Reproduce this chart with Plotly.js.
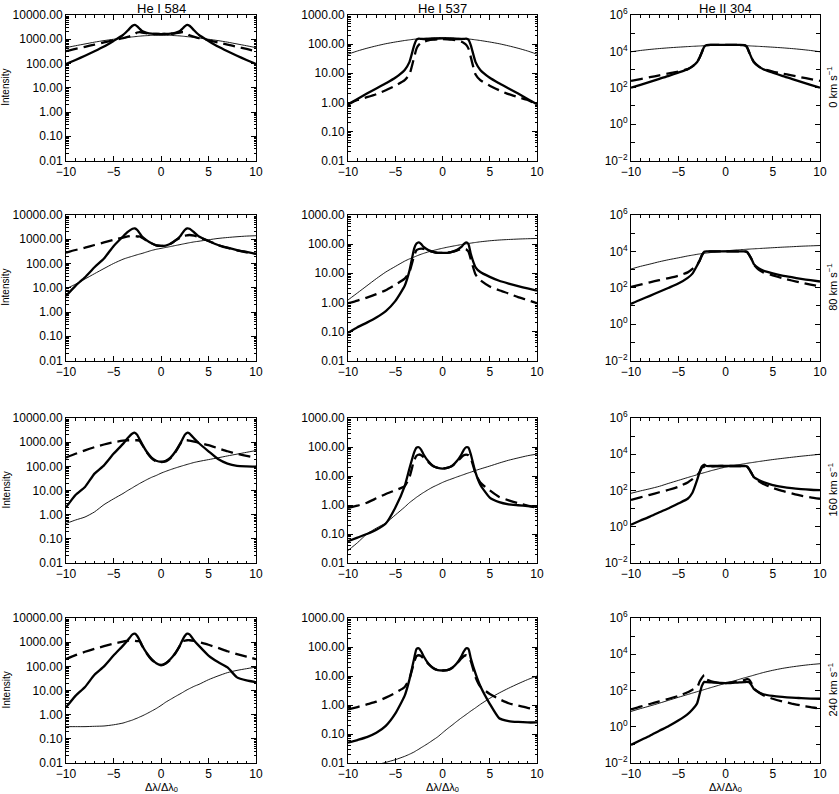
<!DOCTYPE html>
<html>
<head>
<meta charset="utf-8">
<script src="https://cdn.plot.ly/plotly-3.0.1.min.js"></script>
<style>html,body{margin:0;padding:0;background:#fff}#plot{width:839px;height:794px}</style>
</head>
<body>
<div id="plot"></div>
<script>
// common wavelength grid (Δλ/Δλ0)
const X = [-10,-9,-8,-7,-6,-5,-4,-3.5,-3,-2.75,-2.5,-2.25,-2,-1.5,-1,-0.5,0,0.5,1,1.5,2,2.25,2.5,2.75,3,3.5,4,5,6,7,8,9,10];

const lineNames = ['He I 584','He I 537','He II 304'];
const velocityLabels = ['0 km s<sup>−1</sup>','80 km s<sup>−1</sup>','160 km s<sup>−1</sup>','240 km s<sup>−1</sup>'];
const xLabel = 'Δλ/Δλₒ';

// He I 584
const s584_0 = [95,140,210,320,500,850,1500,2300,3600,3900,3400,2700,2200,1850,1700,1650,1640,1650,1700,1850,2200,2700,3400,3900,3600,2300,1500,850,500,320,210,140,95];
const d584_0 = [320,400,490,600,740,900,1100,1250,1450,1650,1900,1950,1900,1750,1680,1650,1640,1650,1680,1750,1900,1950,1900,1650,1450,1250,1100,900,740,600,490,400,320];
const t584_0 = [450,540,640,760,880,1000,1130,1190,1250,1280,1310,1340,1370,1410,1440,1460,1470,1460,1440,1410,1370,1340,1310,1280,1250,1190,1130,1000,880,760,640,540,450];

const s584_80 = [4.6,12,27,70,160,520,1300,2000,2700,2800,2400,1800,1300,900,680,560,530,550,650,880,1300,1800,2400,2800,2700,1900,1300,850,580,450,360,300,250];
const d584_80 = [280,360,450,580,740,950,1180,1300,1400,1350,1300,1300,1150,880,680,560,530,550,650,880,1150,1300,1400,1450,1500,1400,1200,850,580,440,350,290,250];
const t584_80 = [9,14,23,38,62,100,150,175,200,215,230,245,260,300,345,385,420,460,500,550,600,630,660,690,720,780,830,950,1080,1180,1270,1350,1400];

const s584_160 = [2,6.5,14,50,110,330,850,1500,2300,2450,2000,1300,850,400,230,170,155,170,230,400,850,1300,2000,2450,2300,1400,900,420,200,130,105,100,98];
const d584_160 = [230,330,460,620,800,1000,1150,1200,1200,1200,1200,1150,800,380,220,160,150,160,220,380,800,1150,1200,1200,1150,1050,950,750,560,420,330,270,230];
const t584_160 = [0.43,0.6,0.8,1.3,2.6,4.5,7.5,10,13,15,17,19.5,22,28,35,42,52,62,73,85,98,105,112,120,128,145,160,190,225,270,320,380,450];

const s584_240 = [2,6,14,45,100,280,720,1200,2100,2250,1800,1200,750,350,200,135,115,135,200,350,750,1200,1800,2250,2100,1150,700,280,150,90,35,26,22];
const d584_240 = [200,290,400,530,680,860,1050,1150,1200,1150,1100,1100,720,340,190,130,110,130,190,340,720,1100,1150,1200,1200,1120,1000,780,580,420,320,250,200];
const t584_240 = [0.32,0.32,0.32,0.33,0.34,0.38,0.45,0.52,0.6,0.66,0.72,0.8,0.88,1.1,1.4,1.8,2.4,3.3,4.3,5.6,7.2,8.2,9.4,10.7,12,15,18,28,40,55,68,80,93];

// He I 537
const s537_0 = [0.85,1.3,2.0,3.0,4.5,7,13,24,90,140,155,150,148,148,150,155,158,155,150,148,148,150,155,140,90,24,13,7,4.5,3.0,2.0,1.3,0.85];
const d537_0 = [0.85,1.2,1.5,1.9,2.6,3.7,5.8,9,35,70,95,110,120,135,142,146,148,146,142,135,120,110,95,70,35,9,5.8,3.7,2.6,1.9,1.5,1.2,0.85];
const t537_0 = [45,58,72,87,103,118,133,140,147,150,153,156,159,163,166,168,169,168,166,163,159,156,153,150,147,140,133,118,103,87,72,58,45];

const s537_80 = [0.09,0.14,0.2,0.3,0.5,1.1,3.7,12,70,105,115,100,80,62,54,50,50,50,54,62,80,100,115,100,45,16,11,7.5,5.5,4.4,3.6,3,2.5];
const d537_80 = [0.93,1.15,1.45,1.9,2.6,4,6.5,11,40,62,68,70,68,60,54,50,50,50,54,60,68,68,66,55,30,9,5.8,3.5,2.6,2.0,1.5,1.2,0.93];
const t537_80 = [1.2,2.1,3.7,6.5,11,17,26,31,36,39,42,45,48,54,60,66,72,78,84,90,96,99,102,105,108,114,120,130,138,144,149,153,156];

const s537_160 = [0.056,0.075,0.1,0.14,0.23,0.8,4.5,18,65,95,98,80,55,32,22,19,18,19,22,32,55,80,98,95,55,13,5,1.8,1.25,1.05,0.98,0.92,0.87];
const d537_160 = [0.8,0.95,1.2,1.7,2.4,3.2,4.5,9,35,50,55,52,44,30,22,19,18,19,22,30,44,52,55,52,40,12,6,3.2,1.9,1.45,1.15,0.95,0.8];
const t537_160 = [0.027,0.05,0.1,0.16,0.24,0.45,0.85,1.2,1.6,1.85,2.1,2.4,2.7,3.4,4.2,5.0,6,7,8,9.2,10.5,11.2,12,12.8,13.6,15.5,17.5,22,28,35,42,50,57];

const s537_240 = [0.05,0.062,0.078,0.11,0.19,0.5,2.1,7.5,40,85,90,70,48,27,19,16,15.5,16,19,27,48,70,90,85,40,12,4.5,1.1,0.35,0.28,0.26,0.25,0.25];
const d537_240 = [0.7,0.85,1.05,1.3,1.8,2.6,4.2,8,30,48,52,48,40,26,19,16,15.5,16,19,26,40,48,52,48,32,9,4.3,2.4,1.6,1.15,0.95,0.8,0.7];
const t537_240 = [0.004,0.005,0.0065,0.0085,0.0105,0.013,0.017,0.02,0.024,0.027,0.03,0.034,0.038,0.048,0.062,0.08,0.11,0.15,0.2,0.27,0.36,0.41,0.47,0.54,0.62,0.8,1.05,1.7,2.6,3.8,5.4,7.5,10];

// He II 304
const s304_0 = [100,145,210,310,450,680,1050,1500,2600,4500,9000,18000,22000,22500,22500,22500,22500,22500,22500,22500,22000,18000,9000,4500,2600,1500,1050,680,450,310,210,145,100];
const d304_0 = [240,300,380,480,610,780,1050,1500,2600,4500,9000,18000,22000,22500,22500,22500,22500,22500,22500,22500,22000,18000,9000,4500,2600,1500,1050,780,610,480,380,300,240];
const t304_0 = [9500,11200,12800,14300,15700,17000,18300,18900,19500,19800,20100,20400,20700,21200,21700,22000,22100,22000,21700,21200,20700,20400,20100,19800,19500,18900,18300,17000,15700,14300,12800,11200,9500];

const s304_80 = [13,22,36,60,100,170,350,600,1700,3000,6000,9500,10000,10000,10000,10000,10000,10000,10000,10000,10000,9500,6500,3800,2000,1200,870,620,470,380,310,260,220];
const d304_80 = [110,150,200,260,340,460,700,1100,1900,3000,6000,9500,10000,10000,10000,10000,10000,10000,10000,10000,10000,9500,6500,3800,1900,1000,700,480,340,250,190,150,120];
const t304_80 = [1070,1500,2000,2700,3500,4400,5600,6200,6900,7200,7500,7800,8100,8700,9300,10000,10600,11200,11800,12300,12800,13100,13300,13600,13800,14300,14800,15900,17000,18000,19200,20100,21000];

const s304_160 = [1.3,2.2,3.6,6.3,10.5,19,35,75,380,1000,2100,2700,2250,2250,2250,2250,2250,2250,2250,2250,2250,2200,1500,900,550,380,290,200,160,135,120,110,105];
const d304_160 = [30,42,58,80,110,160,280,420,700,1000,1800,2100,2100,2150,2200,2250,2250,2250,2250,2250,2250,2200,1500,900,550,330,230,140,95,70,52,42,35];
const t304_160 = [70,95,125,170,250,360,520,620,740,810,890,960,1050,1250,1450,1700,1950,2200,2450,2700,3000,3150,3300,3450,3600,3950,4300,5100,5900,6800,7800,8800,10000];

const s304_240 = [0.1,0.18,0.32,0.6,1.1,2.2,5,9,20,60,180,300,290,280,270,260,255,260,270,280,290,300,290,200,120,80,62,50,44,40,38,36,35];
const d304_240 = [9,13,18,25,35,50,80,110,150,300,500,700,400,320,280,260,255,270,300,340,380,420,400,250,130,80,55,35,25,19,15,12,10];
const t304_240 = [7,10,14,20,29,42,60,72,86,94,103,112,123,147,175,210,250,300,350,420,500,540,590,640,700,830,980,1300,1650,2000,2350,2700,3000];

// tick labels
const xTickVals = [-10,-5,0,5,10];
const xTickText = ['−10','−5','0','5','10'];
const yTickVals584 = [0.01,0.1,1,10,100,1000,10000];
const yTickText584 = ['0.01','0.10','1.00','10.00','100.00','1000.00','10000.00'];
const yTickVals537 = [0.01,0.1,1,10,100,1000];
const yTickText537 = ['0.01','0.10','1.00','10.00','100.00','1000.00'];
const yTickVals304 = [1e-2,1,100,1e4,1e6];
const yTickText304 = ['10<sup>−2</sup>','10<sup>0</sup>','10<sup>2</sup>','10<sup>4</sup>','10<sup>6</sup>'];
const yMinorVals304 = [1e-1,10,1e3,1e5];

const panels = [
  [[s584_0,d584_0,t584_0],[s537_0,d537_0,t537_0],[s304_0,d304_0,t304_0]],
  [[s584_80,d584_80,t584_80],[s537_80,d537_80,t537_80],[s304_80,d304_80,t304_80]],
  [[s584_160,d584_160,t584_160],[s537_160,d537_160,t537_160],[s304_160,d304_160,t304_160]],
  [[s584_240,d584_240,t584_240],[s537_240,d537_240,t537_240],[s304_240,d304_240,t304_240]]
];

const W = 839, H = 794;
const colPx = [[66,256],[348,537],[631,820]];
const rowPx = [[15,160.5],[215,360.5],[418,563],[618,763]];
const FONT = 'Liberation Sans, Arial, Helvetica, sans-serif';

const yCfg = [
  {range:[-2,4], tickvals:yTickVals584, ticktext:yTickText584, minor:{ticks:'inside', ticklen:2.5, dtick:'D1', tickcolor:'#000', tickwidth:1}},
  {range:[-2,3], tickvals:yTickVals537, ticktext:yTickText537, minor:{ticks:'inside', ticklen:2.5, dtick:'D1', tickcolor:'#000', tickwidth:1}},
  {range:[-2,6], tickvals:yTickVals304, ticktext:yTickText304, minor:{ticks:'inside', ticklen:4, tickmode:'array', tickvals:yMinorVals304, tickcolor:'#000', tickwidth:1}}
];

const traces = [];
const layout = {
  width: W, height: H,
  margin: {l:0, r:0, t:0, b:0},
  paper_bgcolor: '#fff', plot_bgcolor: '#fff',
  showlegend: false,
  font: {family: FONT, size: 12, color: '#000'},
  annotations: []
};

for (let r = 0; r < 4; r++) {
  for (let c = 0; c < 3; c++) {
    const i = r*3 + c + 1;
    const xa = 'x' + (i === 1 ? '' : i);
    const ya = 'y' + (i === 1 ? '' : i);
    const [s, d, t] = panels[r][c];
    traces.push({x: X, y: t, xaxis: xa, yaxis: ya, mode: 'lines', line: {color:'#000', width: 0.9, shape:'spline', smoothing:0.6}});
    traces.push({x: X, y: d, xaxis: xa, yaxis: ya, mode: 'lines', line: {color:'#000', width: 2.3, dash:'12px,6px', shape:'spline', smoothing:0.5}});
    traces.push({x: X, y: s, xaxis: xa, yaxis: ya, mode: 'lines', line: {color:'#000', width: 2.3, shape:'spline', smoothing:0.5}});

    const xd = [colPx[c][0]/W, colPx[c][1]/W];
    const yd = [1 - rowPx[r][1]/H, 1 - rowPx[r][0]/H];
    const xKey = 'xaxis' + (i === 1 ? '' : i);
    const yKey = 'yaxis' + (i === 1 ? '' : i);
    layout[xKey] = {
      domain: xd, anchor: ya, range: [-10, 10],
      tickmode: 'array', tickvals: xTickVals, ticktext: xTickText,
      ticks: 'inside', ticklen: 5, tickwidth: 1, tickcolor: '#000',
      minor: {ticks: 'inside', ticklen: 2.5, dtick: 1, tickcolor:'#000', tickwidth: 1},
      showline: true, linecolor: '#000', linewidth: 1, mirror: 'allticks',
      showgrid: false, zeroline: false,
      tickfont: {family: FONT, size: 12, color:'#000'}
    };
    const yc = yCfg[c];
    layout[yKey] = {
      domain: yd, anchor: xa, type: 'log', range: yc.range,
      tickmode: 'array', tickvals: yc.tickvals, ticktext: yc.ticktext,
      ticks: 'inside', ticklen: 5, tickwidth: 1, tickcolor: '#000',
      minor: yc.minor,
      showline: true, linecolor: '#000', linewidth: 1, mirror: 'allticks',
      showgrid: false, zeroline: false,
      tickfont: {family: FONT, size: 12, color:'#000'}
    };
  }
}

// column titles and bottom x labels
for (let c = 0; c < 3; c++) {
  layout.annotations.push({text: lineNames[c], xref:'paper', yref:'paper',
    x: (colPx[c][0]+colPx[c][1])/2/W, y: 1, xanchor:'center', yanchor:'top', borderpad:0,
    showarrow:false, font:{family:FONT, size:13, color:'#000'}});
  layout.annotations.push({text: xLabel, xref:'paper', yref:'paper',
    x: (colPx[c][0]+colPx[c][1])/2/W, y: 0, xanchor:'center', yanchor:'bottom', borderpad:0,
    showarrow:false, font:{family:FONT, size:11, color:'#000'}});
}
for (let r = 0; r < 4; r++) {
  const yc = 1 - (rowPx[r][0]+rowPx[r][1])/2/H;
  layout.annotations.push({text: 'Intensity', xref:'paper', yref:'paper',
    x: 6/W, y: yc, xanchor:'center', yanchor:'middle', textangle:-90,
    showarrow:false, font:{family:FONT, size:10, color:'#000'}});
  layout.annotations.push({text: velocityLabels[r], xref:'paper', yref:'paper',
    x: 832/W, y: yc, xanchor:'center', yanchor:'middle', textangle:-90,
    showarrow:false, font:{family:FONT, size:11, color:'#000'}});
}

Plotly.newPlot('plot', traces, layout, {staticPlot: true});
</script>
</body>
</html>
